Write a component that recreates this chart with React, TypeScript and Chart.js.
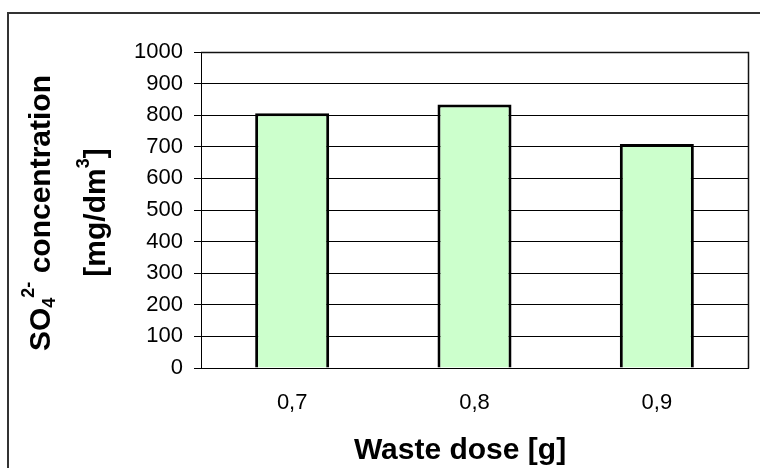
import React, { useEffect, useRef } from "react";
import { Chart, registerables } from "chart.js";

Chart.register(...registerables);

// ---- data ----
const categories = ["0,7", "0,8", "0,9"];
const so4Concentration = [806, 834, 709];
const yMin = 0;
const yMax = 1000;
const yStep = 100;
const xTitle = "Waste dose [g]";
const yTitleLine1 = [
  { text: "SO", kind: "normal" },
  { text: "4", kind: "sub" },
  { text: "2-", kind: "sup" },
  { text: " concentration", kind: "normal" },
];
const yTitleLine2 = [
  { text: "[mg/dm", kind: "normal" },
  { text: "3", kind: "sup" },
  { text: "]", kind: "normal" },
];

const FONT = '"Liberation Sans", Arial, Helvetica, sans-serif';

function drawRich(ctx: CanvasRenderingContext2D, parts: { text: string; kind: string }[], cx: number, cy: number) {
  const big = 30;
  const small = 18;
  const fontFor = (k: string) => `bold ${k === "normal" ? big : small}px ${FONT}`;
  let total = 0;
  const widths = parts.map((p) => {
    ctx.font = fontFor(p.kind);
    const w = ctx.measureText(p.text).width;
    total += w;
    return w;
  });
  ctx.save();
  ctx.translate(cx, cy);
  ctx.rotate(-Math.PI / 2);
  ctx.textAlign = "left";
  ctx.textBaseline = "alphabetic";
  ctx.fillStyle = "#000";
  let x = -total / 2;
  parts.forEach((p, i) => {
    ctx.font = fontFor(p.kind);
    const dy = p.kind === "sub" ? 5 : p.kind === "sup" ? -16 : 0;
    ctx.fillText(p.text, x, dy);
    x += widths[i];
  });
  ctx.restore();
}

const decorPlugin = {
  id: "decor",
  afterDraw(chart: any) {
    const ctx: CanvasRenderingContext2D = chart.ctx;
    const a = chart.chartArea;
    ctx.save();
    // outer frame
    ctx.strokeStyle = "#333";
    ctx.lineWidth = 2;
    ctx.strokeRect(8, 13, 800, 500);
    // plot area top/right border
    ctx.strokeStyle = "#111";
    ctx.lineWidth = 1.5;
    ctx.beginPath();
    ctx.moveTo(Math.round(a.left), Math.round(a.top) + 0.5);
    ctx.lineTo(Math.round(a.right) + 0.5, Math.round(a.top) + 0.5);
    ctx.lineTo(Math.round(a.right) + 0.5, Math.round(a.bottom) + 0.5);
    ctx.stroke();
    // x title
    ctx.fillStyle = "#000";
    ctx.font = `bold 30px ${FONT}`;
    ctx.textAlign = "center";
    ctx.textBaseline = "alphabetic";
    ctx.fillText(xTitle, 460, 459);
    ctx.restore();
    // y title (two lines, rotated)
    drawRich(ctx, yTitleLine1, 50, 213);
    drawRich(ctx, yTitleLine2, 105, 212.5);
  },
};

export default function App() {
  const ref = useRef<HTMLCanvasElement | null>(null);

  useEffect(() => {
    if (!ref.current) return;
    const chart = new Chart(ref.current, {
      type: "bar",
      data: {
        labels: categories,
        datasets: [
          {
            data: so4Concentration,
            backgroundColor: "#CCFFCC",
            borderColor: "#000000",
            borderWidth: 3,
            categoryPercentage: 1,
            barPercentage: 0.406,
          },
        ],
      },
      options: {
        responsive: false,
        animation: false,
        devicePixelRatio: 1,
        layout: { padding: { left: 0, top: 52, right: 12, bottom: 0 } },
        plugins: {
          legend: { display: false },
          title: { display: false },
          tooltip: { enabled: false },
        },
        scales: {
          x: {
            grid: { display: false, drawTicks: false },
            border: { display: true, color: "#000", width: 1 },
            ticks: {
              color: "#000",
              font: { family: FONT, size: 22 },
              padding: 22,
            },
            afterFit: (s: any) => {
              s.height = 100;
            },
          },
          y: {
            min: yMin,
            max: yMax,
            ticks: {
              stepSize: yStep,
              color: "#000",
              font: { family: FONT, size: 22 },
              padding: 11,
              callback: (v: any) => String(v),
            },
            grid: {
              color: "#000",
              lineWidth: 1,
              drawTicks: true,
              tickLength: 7,
            },
            border: { display: true, color: "#000", width: 1 },
            afterFit: (s: any) => {
              s.width = 201;
            },
          },
        },
      },
      plugins: [decorPlugin],
    });
    return () => chart.destroy();
  }, []);

  return (
    <div style={{ position: "fixed", left: 0, top: 0, width: 760, height: 468, background: "#fff" }}>
      <canvas ref={ref} width={760} height={468} style={{ display: "block", width: 760, height: 468 }} />
    </div>
  );
}
